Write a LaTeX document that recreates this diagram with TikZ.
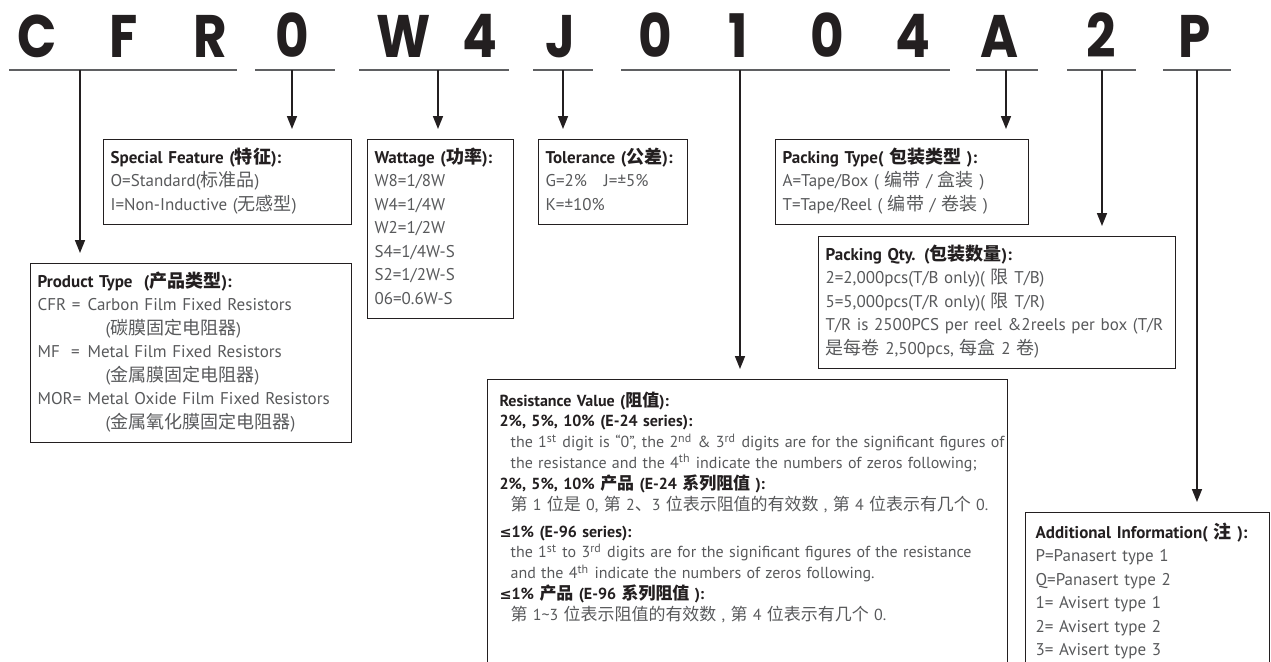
\documentclass[tikz,border=0pt]{standalone}
\usepackage{fontspec}
\setmainfont{PT Sans}[WordSpace=0.75]
\newfontfamily\cjk{Noto Sans CJK SC}[Scale=1.06]
\newfontfamily\symf{DejaVu Sans}[Scale=0.9]
\newfontfamily\bigfont{Poppins}[FakeStretch=0.86]
\usetikzlibrary{arrows.meta}
\definecolor{ink}{HTML}{231F20}
\definecolor{txt}{HTML}{58595B}
\definecolor{uln}{HTML}{5F6062}
\newcommand{\hd}[1]{{\bfseries\color{ink}#1}}
\newcommand{\zh}[1]{{\cjk #1}}
\newcommand{\sups}[1]{\textsuperscript{#1}}
\newcommand{\lesym}{{\symf ≤}}
\newcommand{\boxrows}[1]{\begin{tabular}{@{}l@{}}#1\end{tabular}}

\begin{document}
\begin{tikzpicture}[x=0.5pt, y=-0.5pt,
    % 定义样式
    letter/.style={font=\bigfont\bfseries\fontsize{30}{30}\selectfont, text=ink, anchor=base, inner sep=0pt},
    uline/.style={line width=1.2pt, draw=uln},
    arrowline/.style={line width=0.8pt, draw=ink, -{Triangle[length=6.5pt,width=5pt]}, shorten >=5pt},
    infobox/.style={draw=ink, line width=0.6pt, anchor=north west, align=left, inner xsep=3.5pt, inner ysep=3.5pt, text=txt, font=\fontsize{8.5}{11.75}\selectfont},
    smallbox/.style={infobox, inner xsep=6pt, inner ysep=6pt, font=\fontsize{8}{10.4}\selectfont}
]
    \useasboundingbox (0,0) rectangle (1271,661);
    \clip (0,0) rectangle (1271,661);

    % 型号字母
    \node [letter] (c1) at (37,57) {C};
    \node [letter] (c2) at (124,57) {F};
    \node [letter] (c3) at (210,57) {R};
    \node [letter] (c4) at (292,57) {0};
    \node [letter] (c5) at (404,57) {W};
    \node [letter] (c6) at (480,57) {4};
    \node [letter] (c7) at (560,57) {J};
    \node [letter] (c8) at (655,57) {0};
    \node [letter] (c9) at (738,57) {1};
    \node [letter] (c10) at (827,57) {0};
    \node [letter] (c11) at (913,57) {4};
    \node [letter] (c12) at (1000,57) {A};
    \node [letter] (c13) at (1101,57) {2};
    \node [letter] (c14) at (1195,57) {P};

    % 下划线
    \draw [uline] (9,70) -- (237,70);
    \draw [uline] (255,70) -- (335,70);
    \draw [uline] (359,70) -- (509,70);
    \draw [uline] (533,70) -- (593,70);
    \draw [uline] (621,70) -- (950,70);
    \draw [uline] (976,70) -- (1038,70);
    \draw [uline] (1067,70) -- (1136,70);
    \draw [uline] (1163,70) -- (1231,70);

    \coordinate (uCFR) at (80,70);
    \coordinate (uF) at (292,70);
    \coordinate (uW) at (438,70);
    \coordinate (uT) at (563,70);
    \coordinate (uR) at (740,70);
    \coordinate (uA) at (1006,70);
    \coordinate (uQ) at (1102,70);
    \coordinate (uP) at (1197,70);

    % 说明框
    \node [infobox, text width=117pt] (feat) at (103,139) {\boxrows{
        \hd{Special Feature (\zh{特征}):}\\
        O=Standard(\zh{标准品})\\
        I=Non-Inductive (\zh{无感型})}};
    \node [infobox, text width=66pt] (watt) at (367,139) {\boxrows{
        \hd{Wattage (\zh{功率}):}\\
        W8=1/8W\\ W4=1/4W\\ W2=1/2W\\ S4=1/4W-S\\ S2=1/2W-S\\ 06=0.6W-S}};
    \node [infobox, text width=67.5pt] (tol) at (538,139) {\boxrows{
        \hd{Tolerance (\zh{公差}):}\\
        G=2\%\quad J=±5\%\\
        K=±10\%}};
    \node [infobox, text width=119.5pt] (pack) at (775,139) {\boxrows{
        \hd{Packing Type( \zh{包装类型} ):}\\
        A=Tape/Box ( \zh{编带} / \zh{盒装} )\\
        T=Tape/Reel ( \zh{编带} / \zh{卷装} )}};
    \node [infobox, text width=171.5pt] (qty) at (818,236) {\boxrows{
        \hd{Packing Qty. (\zh{包装数量}):}\\
        2=2,000pcs(T/B only)( \zh{限} T/B)\\
        5=5,000pcs(T/R only)( \zh{限} T/R)\\
        T/R is 2500PCS per reel \&2reels per box (T/R\\
        \zh{是每卷} 2,500pcs, \zh{每盒} 2 \zh{卷})}};
    \node [infobox, text width=153.5pt] (prod) at (30,263) {\boxrows{
        \hd{Product Type\ \ (\zh{产品类型}):}\\
        \makebox[25pt][l]{CFR =}Carbon Film Fixed Resistors\\
        \hspace{34pt}(\zh{碳膜固定电阻器})\\
        \makebox[25pt][l]{MF\ \ =}Metal Film Fixed Resistors\\
        \hspace{34pt}(\zh{金属膜固定电阻器})\\
        \makebox[25pt][l]{MOR=}Metal Oxide Film Fixed Resistors\\
        \hspace{34pt}(\zh{金属氧化膜固定电阻器})}};
    \node [smallbox, text width=248pt] (rval) at (487,379) {\boxrows{
        \hd{Resistance Value (\zh{阻值}):}\\
        \hd{2\%, 5\%, 10\% (E-24 series):}\\
        \hspace{5.5pt}the 1\sups{st} digit is “0”, the 2\sups{nd} \& 3\sups{rd} digits are for the significant figures of\\
        \hspace{5.5pt}the resistance and the 4\sups{th} indicate the numbers of zeros following;\\
        \hd{2\%, 5\%, 10\% \zh{产品} (E-24 \zh{系列阻值} ):}\\
        \hspace{5.5pt}\zh{第} 1 \zh{位是} 0, \zh{第} 2\zh{、}3 \zh{位表示阻值的有效数} , \zh{第} 4 \zh{位表示有几个} 0.\\[3pt]
        \hd{\lesym1\% (E-96 series):}\\
        \hspace{5.5pt}the 1\sups{st} to 3\sups{rd} digits are for the significant figures of the resistance\\
        \hspace{5.5pt}and the 4\sups{th} indicate the numbers of zeros following.\\
        \hd{\lesym1\% \zh{产品} (E-96 \zh{系列阻值} ):}\\
        \hspace{5.5pt}\zh{第} 1\textasciitilde 3 \zh{位表示阻值的有效数} , \zh{第} 4 \zh{位表示有几个} 0.\\[40pt]}};
    \node [infobox, inner xsep=5pt, inner ysep=4.5pt, text width=112pt] (addi) at (1025,512) {\boxrows{
        \hd{Additional Information( \zh{注} ):}\\
        P=Panasert type 1\\ Q=Panasert type 2\\ 1= Avisert type 1\\ 2= Avisert type 2\\ 3= Avisert type 3\\[20pt]}};

    % 箭头
    \draw [arrowline] (uCFR) -- (uCFR |- prod.north);
    \draw [arrowline] (uF) -- (uF |- feat.north);
    \draw [arrowline] (uW) -- (uW |- watt.north);
    \draw [arrowline] (uT) -- (uT |- tol.north);
    \draw [arrowline] (uR) -- (uR |- rval.north);
    \draw [arrowline] (uA) -- (uA |- pack.north);
    \draw [arrowline] (uQ) -- (uQ |- qty.north);
    \draw [arrowline] (uP) -- (uP |- addi.north);
\end{tikzpicture}
\end{document}
